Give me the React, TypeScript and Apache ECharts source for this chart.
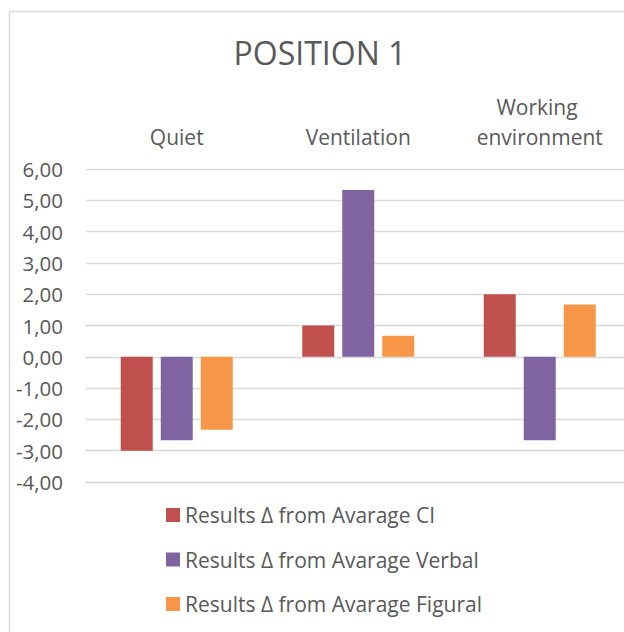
import React, { useEffect, useRef } from "react";
import * as echarts from "echarts";

const categories = ["Quiet", "Ventilation", "Working environment"];
const seriesNames = [
  "Results Δ from Avarage CI",
  "Results Δ from Avarage Verbal",
  "Results Δ from Avarage Figural",
];
const ciValues = [-3.0, 1.0, 2.0];
const verbalValues = [-2.67, 5.33, -2.67];
const figuralValues = [-2.33, 0.67, 1.67];
const colors = ["#C0504D", "#8064A2", "#F79646"];
const yMin = -4;
const yMax = 6;
const yStep = 1;

const FONT = "'Open Sans', sans-serif";
const TEXT = "#595959";

export default function App() {
  const ref = useRef<HTMLDivElement>(null);
  useEffect(() => {
    if (!ref.current) return;
    const chart = echarts.init(ref.current, undefined, { renderer: "svg" });
    const values = [ciValues, verbalValues, figuralValues];
    chart.setOption({
      animation: false,
      backgroundColor: "#ffffff",
      textStyle: { fontFamily: FONT, color: TEXT },
      title: {
        text: "POSITION 1",
        left: "center",
        top: 31,
        textStyle: { fontFamily: FONT, fontSize: 32, fontWeight: "normal", color: TEXT },
      },
      graphic: [
        {
          type: "rect",
          shape: { x: 9.5, y: 11.5, width: 700, height: 700 },
          style: { fill: "none", stroke: "#d9d9d9", lineWidth: 1.5 },
          silent: true,
          z: -1,
        },
      ],
      legend: {
        orient: "vertical",
        left: 166,
        top: 504.5,
        padding: 0,
        itemWidth: 14,
        itemHeight: 14,
        itemGap: 23.5,
        icon: "rect",
        textStyle: { fontFamily: FONT, fontSize: 21, color: TEXT, lineHeight: 21 },
        data: seriesNames,
      },
      grid: { left: 86, top: 169, width: 544.5, height: 313, containLabel: false },
      xAxis: {
        type: "category",
        position: "top",
        data: categories,
        axisLine: { show: false },
        axisTick: { show: false },
        axisLabel: {
          fontFamily: FONT,
          fontSize: 21,
          color: TEXT,
          lineHeight: 30,
          margin: 17,
          width: 170,
          overflow: "break",
          interval: 0,
        },
      },
      yAxis: {
        type: "value",
        min: yMin,
        max: yMax,
        interval: yStep,
        axisLine: { show: false },
        axisTick: { show: false },
        splitLine: { show: true, lineStyle: { color: "#d9d9d9", width: 1.3 } },
        axisLabel: {
          fontFamily: FONT,
          fontSize: 20.5,
          color: TEXT,
          margin: 23,
          formatter: (v: number) => v.toFixed(2).replace(".", ","),
        },
      },
      series: seriesNames.map((name, i) => ({
        name,
        type: "bar",
        data: values[i],
        barWidth: 32,
        barGap: "25%",
        itemStyle: { color: colors[i] },
      })),
    });
    return () => chart.dispose();
  }, []);
  return (
    <div
      style={{
        position: "fixed",
        left: 0,
        top: 0,
        width: 624,
        height: 632,
        overflow: "hidden",
        background: "#fff",
      }}
    >
      <div ref={ref} style={{ width: 640, height: 660 }} />
    </div>
  );
}
